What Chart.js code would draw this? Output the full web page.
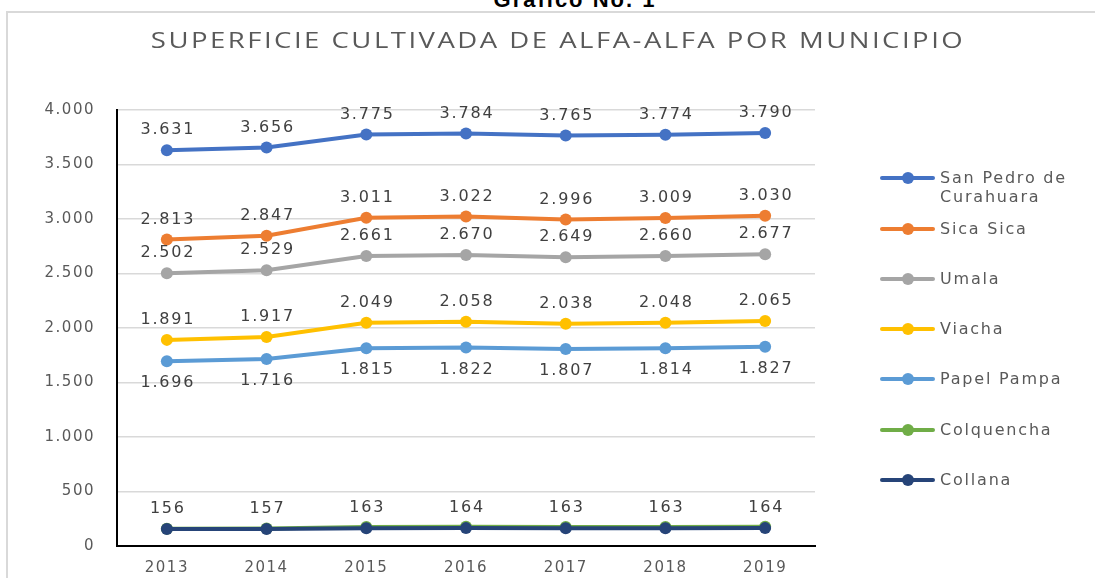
<!DOCTYPE html>
<html>
<head>
<meta charset="utf-8">
<script src="https://cdn.jsdelivr.net/npm/chart.js@4.4.1/dist/chart.umd.min.js"></script>
<style>
	body { margin: 0; background: #fff; overflow: hidden; }
	#wrap { position: relative; width: 1095px; height: 578px; overflow: hidden; }
	#frame { position: absolute; left: 6px; top: 11px; right: -10px; bottom: -10px; border-left: 2px solid #d9d9d9; border-top: 2px solid #d9d9d9; }
	#head { position: absolute; left: 0; width: 1150px; top: -13px; text-align: center; font: bold 22px "Liberation Sans", Arial, sans-serif; letter-spacing: 2px; color: #000; }
	#myChart { position: absolute; left: 0; top: 0; }
	#legend { position: absolute; left: 880px; top: 0; font: 16px "DejaVu Sans", sans-serif; letter-spacing: 1.8px; color: #595959; }
	.item { position: absolute; left: 0; width: 220px; }
	.mark { position: absolute; left: 0; width: 55px; height: 4px; border-radius: 2px; }
	.mark i { position: absolute; left: 22px; top: -4px; width: 12px; height: 12px; border-radius: 6px; }
	.txt { position: absolute; left: 60px; line-height: 19px; white-space: nowrap; }
</style>
</head>
<body>
<div id="wrap">
	<div id="frame"></div>
	<div id="head">Gráfico No. 1</div>
	<canvas id="myChart" width="1095" height="578"></canvas>
	<div id="legend"></div>
</div>
<script>
//+++++++++++++++++++++++ Start:data +++++++++++++++++++++++
var title = 'SUPERFICIE CULTIVADA DE ALFA-ALFA POR MUNICIPIO';
var years = ['2013', '2014', '2015', '2016', '2017', '2018', '2019'];
var names = ['San Pedro de Curahuara', 'Sica Sica', 'Umala', 'Viacha', 'Papel Pampa', 'Colquencha', 'Collana'];
var sanPedro = [3631, 3656, 3775, 3784, 3765, 3774, 3790];
var sicaSica = [2813, 2847, 3011, 3022, 2996, 3009, 3030];
var umala = [2502, 2529, 2661, 2670, 2649, 2660, 2677];
var viacha = [1891, 1917, 2049, 2058, 2038, 2048, 2065];
var papelPampa = [1696, 1716, 1815, 1822, 1807, 1814, 1827];
var colquencha = [158, 160, 175, 176, 175, 175, 176];
var collana = [156, 157, 163, 164, 163, 163, 164];
var yTicks = [0, 500, 1000, 1500, 2000, 2500, 3000, 3500, 4000];
//-------------------- End:data --------------------

var colors = ['#4472C4', '#ED7D31', '#A5A5A5', '#FFC000', '#5B9BD5', '#70AD47', '#264478'];
var series = [sanPedro, sicaSica, umala, viacha, papelPampa, colquencha, collana];
var labelPos = ['above', 'above', 'above', 'above', 'below', null, 'above'];

function fmt(v) {
	return String(v).replace(/\B(?=(\d{3})+(?!\d))/g, '.');
}

// value labels, drawn like excel data labels
var valueLabels = {
	id: 'valueLabels',
	afterDatasetsDraw: function (chart) {
		var ctx = chart.ctx;
		ctx.save();
		ctx.font = '16px "DejaVu Sans", sans-serif';
		ctx.letterSpacing = '1.8px';
		ctx.fillStyle = '#404040';
		ctx.textAlign = 'center';
		ctx.textBaseline = 'middle';
		chart.data.datasets.forEach(function (ds, i) {
			if (!ds.labelPos) return;
			chart.getDatasetMeta(i).data.forEach(function (pt, j) {
				var dy = ds.labelPos === 'above' ? -20 : 22;
				ctx.fillText(fmt(ds.data[j]), pt.x + 1, pt.y + dy);
			});
		});
		ctx.restore();
	}
};

// title centred over the whole frame, a bit stretched like the original
var chartTitle = {
	id: 'chartTitle',
	afterDraw: function (chart) {
		var ctx = chart.ctx;
		ctx.save();
		ctx.translate(558, 42);
		ctx.scale(1.25, 1);
		ctx.font = '22px "Open Sans", sans-serif';
		ctx.letterSpacing = '2px';
		ctx.fillStyle = '#595959';
		ctx.textAlign = 'center';
		ctx.textBaseline = 'middle';
		ctx.fillText(title, 0, 0);
		ctx.restore();
	}
};

var spacing = {
	id: 'spacing',
	beforeDraw: function (chart) {
		chart.ctx.letterSpacing = '1.5px';
	}
};

var ctx = document.getElementById('myChart').getContext('2d');
var chart = new Chart(ctx, {
	type: 'line',
	data: {
		labels: years,
		datasets: series.map(function (d, i) {
			return {
				label: names[i],
				data: d,
				borderColor: colors[i],
				backgroundColor: colors[i],
				borderWidth: 4,
				pointRadius: 6,
				pointBorderWidth: 0,
				pointHoverRadius: 6,
				order: series.length - i,
				labelPos: labelPos[i]
			};
		})
	},
	options: {
		responsive: false,
		animation: false,
		layout: { padding: { left: 10, right: 280, top: 110, bottom: 0 } },
		plugins: {
			legend: { display: false },
			tooltip: { enabled: false },
			title: { display: false }
		},
		scales: {
			x: {
				offset: true,
				grid: { display: false },
				border: { display: true, color: '#000', width: 2 },
				ticks: { color: '#595959', font: { family: 'DejaVu Sans', size: 15 }, padding: 5 },
				afterFit: function (s) { s.height = 32; }
			},
			y: {
				min: 0,
				max: 4000,
				afterBuildTicks: function (s) { s.ticks = yTicks.map(function (v) { return { value: v }; }); },
				grid: { color: '#d9d9d9', lineWidth: 1.5, drawTicks: false },
				border: { display: true, color: '#000', width: 2 },
				ticks: {
					color: '#595959',
					font: { family: 'DejaVu Sans', size: 15 },
					padding: 22,
					callback: function (v) { return fmt(v); }
				},
				afterFit: function (s) { s.width = 107; }
			}
		}
	},
	plugins: [spacing, valueLabels, chartTitle]
});

//++++++++++++++++++++++ Start:legend ++++++++++++++++++++++
var legendY = [178, 229, 279, 329, 379, 430, 480];
var legend = document.getElementById('legend');
names.forEach(function (n, i) {
	var item = document.createElement('div');
	item.className = 'item';
	item.style.top = legendY[i] + 'px';
	var txt = n === 'San Pedro de Curahuara' ? 'San Pedro de<br>Curahuara' : n;
	item.innerHTML = '<div class="mark" style="top:-2px;background:' + colors[i] + '"><i style="background:' + colors[i] + '"></i></div>' +
		'<div class="txt" style="top:-10px">' + txt + '</div>';
	legend.appendChild(item);
});
//-------------------- End:legend --------------------
</script>
</body>
</html>
